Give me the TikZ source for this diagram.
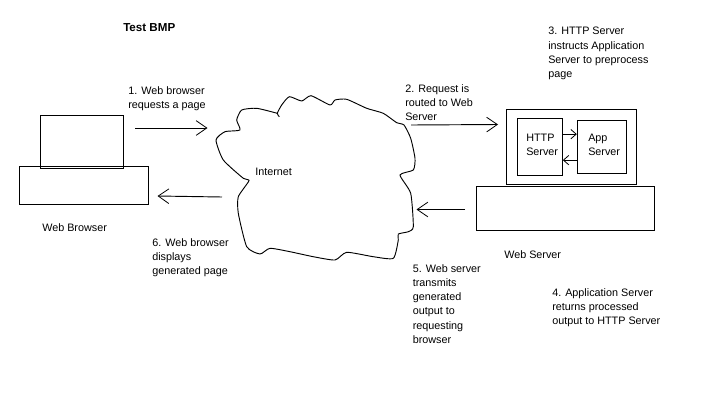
\documentclass[tikz,border=0pt]{standalone}
\usepackage{fontspec}
\setmainfont{Liberation Sans}
\usetikzlibrary{arrows.meta,positioning}
\tikzset{
        block/.style = {draw, rectangle, inner sep=0pt, line width=0.75pt},
        label/.style = {align=left, inner sep=0pt, anchor=north west,
            font=\fontsize{8.1}{10.7}\selectfont},
        arrow/.style = {draw, line width=0.7pt,
            -{Straight Barb[length=8pt,width=11pt,line width=0.6pt]}},
        smallarrow/.style = {draw, line width=0.7pt,
            -{Straight Barb[length=4pt,width=7pt,line width=0.6pt]}},
    }
\begin{document}
\begin{tikzpicture}[x=0.75pt,y=-0.75pt]
    \useasboundingbox (0,0) rectangle (710,404);

    % browser
    \node[block, minimum width=62.25pt, minimum height=39.75pt] (screen) at (81.8,141.8) {};
    \node[block, minimum width=96.75pt, minimum height=28.5pt] (desk) at (83.8,185.3) {};
    \node[label] (browserlabel) at (42,223) {Web Browser};

    % server
    \node[block, minimum width=97.5pt, minimum height=56.25pt] (case) at (571.3,146.8) {};
    \node[block, minimum width=133.25pt, minimum height=33pt] (base) at (565.5,208.3) {};
    \node[block, minimum width=33.75pt, minimum height=42.75pt] (http) at (539.8,146.8) {};
    \node[block, minimum width=36.75pt, minimum height=39.75pt] (app) at (601.8,146.8) {};
    \node[label] (httplabel) at (526,134) {HTTP\\Server};
    \node[label] (applabel) at (588,134) {App\\Server};
    \node[label] (serverlabel) at (504,250) {Web Server};

    % cloud
    \draw[line width=0.7pt] plot[smooth, tension=0.35] coordinates {
        (279.3,116.7) (277.3,113.3) (281.7,105) (289.3,96.7) (301.7,101) (311,95.7)
        (330,105) (335,100) (346.7,99.3) (366.7,108.3) (383.3,113.3) (396.7,122.7)
        (404,125) (410.7,138.3) (415,158.3) (413.3,170) (400,175) (410.7,193.3)
        (413.3,226.7) (408.3,231.7) (398.3,234) (398.3,240) (393.3,258.3) (373.3,256.7)
        (346.7,252.3) (335,260) (313.3,256.7) (290,251.7) (270,248.3) (260,254)
        (246.7,246.7) (238.3,213.3) (238.3,196.7) (249,180.7) (243.3,178.3) (223.3,160)
        (216,140) (225,131.7) (240,130) (236.7,120) (241.7,110) (256.7,108.3) (277.3,113.3)};
    \node[label] (internet) at (255,168) {Internet};

    % arrows
    \coordinate (a1s) at (135,128);
    \coordinate (a1e) at (207.5,128);
    \coordinate (a2s) at (411,125);
    \coordinate (a2e) at (498,124.5);
    \coordinate (a5s) at (465,209.5);
    \coordinate (a5e) at (416.5,209.5);
    \coordinate (a6s) at (222,197);
    \coordinate (a6e) at (157.5,196);
    \draw[arrow] (a1s) -- (a1e);
    \draw[arrow] (a2s) -- (a2e);
    \draw[arrow] (a5s) -- (a5e);
    \draw[arrow] (a6s) -- (a6e);
    \draw[smallarrow] ([yshift=9.5pt]http.east) -- ([yshift=9.5pt]app.west);
    \draw[smallarrow] ([yshift=-10pt]app.west) -- ([yshift=-10pt]http.east);

    % steps
    \node[label, font=\fontsize{8.7}{10.7}\selectfont\bfseries] (title) at (123,23.5) {Test BMP};
    \node[label] (step1) at (128,86) {1. Web browser\\requests a page};
    \node[label] (step2) at (405,84) {2. Request is\\routed to Web\\Server};
    \node[label] (step3) at (548,27) {3. HTTP Server\\instructs Application\\Server to preprocess\\page};
    \node[label] (step4) at (552,288) {4. Application Server\\returns processed\\output to HTTP Server};
    \node[label] (step5) at (412.5,264) {5. Web server\\transmits\\generated\\output to\\requesting\\browser};
    \node[label] (step6) at (152,238) {6. Web browser\\displays\\generated page};
\end{tikzpicture}
\end{document}
